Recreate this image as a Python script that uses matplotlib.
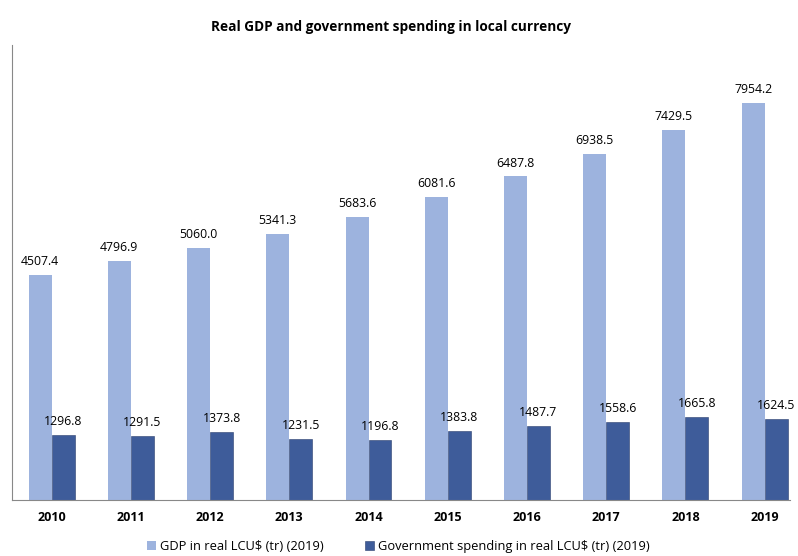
import numpy as np
import matplotlib.pyplot as plt

years = ['2010', '2011', '2012', '2013', '2014', '2015', '2016', '2017', '2018', '2019']
gdp = [4507.4, 4796.9, 5060.0, 5341.3, 5683.6, 6081.6, 6487.8, 6938.5, 7429.5, 7954.2]
gov = [1296.8, 1291.5, 1373.8, 1231.5, 1196.8, 1383.8, 1487.7, 1558.6, 1665.8, 1624.5]

plt.rcParams['font.family'] = ['Open Sans', 'DejaVu Sans']

fig = plt.figure(figsize=(7.98, 5.56), dpi=100)
ax = fig.add_axes([0.015, 0.1007, 0.975, 0.818])

x = np.arange(len(years))
w = 0.29
b1 = ax.bar(x - w/2, gdp, w, color='#9db3de', label='GDP in real LCU$ (tr) (2019)')
b2 = ax.bar(x + w/2, gov, w, color='#3e5c9a', edgecolor='#2a3f6e', linewidth=0.4,
            label='Government spending in real LCU$ (tr) (2019)')

for rect, v in zip(b1, gdp):
    ax.annotate(f'{v:.1f}', (rect.get_x() + rect.get_width()/2, v), xytext=(0, 5),
                textcoords='offset points', ha='center', va='bottom', fontsize=8.8)
for rect, v in zip(b2, gov):
    ax.annotate(f'{v:.1f}', (rect.get_x() + rect.get_width()/2, v), xytext=(0, 5),
                textcoords='offset points', ha='center', va='bottom', fontsize=8.8)

ax.set_xlim(-0.5, 9.32)
ax.set_ylim(0, 9120)
ax.set_xticks(x)
ax.set_xticklabels(years, fontweight='bold', fontsize=9)
ax.tick_params(axis='x', length=0, pad=8)
ax.set_yticks([])
for s in ['top', 'right']:
    ax.spines[s].set_visible(False)
ax.spines['left'].set_color('#888888')
ax.spines['bottom'].set_color('#888888')
ax.spines['left'].set_linewidth(0.8)
ax.spines['bottom'].set_linewidth(0.8)

fig.text(0.49, 0.952, 'Real GDP and government spending in local currency',
         ha='center', va='center', fontsize=9.8, fontweight='bold')

fig.legend(loc='center', bbox_to_anchor=(0.499, 0.017), ncol=2, frameon=False,
           fontsize=9.3, handlelength=0.7, handleheight=0.7, columnspacing=3.2,
           handletextpad=0.3)

fig.savefig('out.png', dpi=100)
